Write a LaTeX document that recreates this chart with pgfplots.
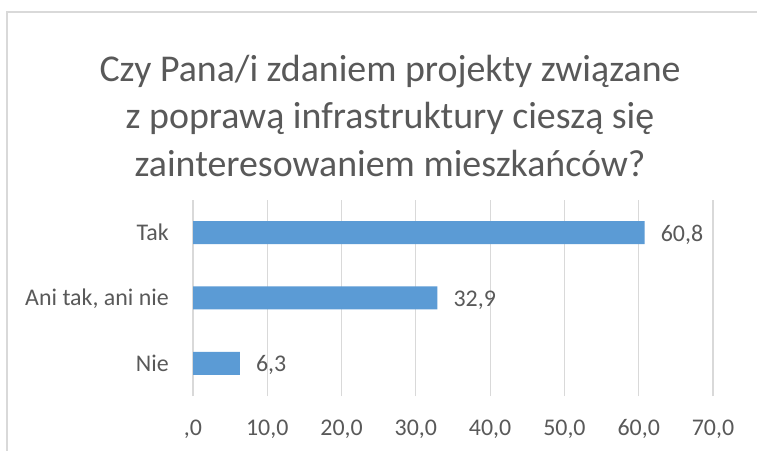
\documentclass[border=0pt]{standalone}
\usepackage{fontspec}
\setmainfont{Carlito}
\usepackage{pgfplots}
\pgfplotsset{compat=1.18}
\definecolor{barblue}{HTML}{5B9BD5}
\definecolor{txtgray}{HTML}{595959}
\definecolor{gridgray}{HTML}{D9D9D9}
\begin{document}
\begin{tikzpicture}
\useasboundingbox (0,0) rectangle (757bp,451bp);
\fill[white] (0,0) rectangle (757bp,451bp);
\draw[gridgray, line width=1.2bp] (7bp,0) -- (7bp,439bp) -- (757bp,439bp);
\node[anchor=base, text=txtgray, font=\fontsize{38}{46}\selectfont] at (390bp,369.5bp) {Czy Pana/i zdaniem projekty związane};
\node[anchor=base, text=txtgray, font=\fontsize{38}{46}\selectfont] at (390bp,322bp) {z poprawą infrastruktury cieszą się};
\node[anchor=base, text=txtgray, font=\fontsize{38}{46}\selectfont] at (390bp,274bp) {zainteresowaniem mieszkańców?};
\begin{axis}[
  at={(193bp,55bp)}, anchor=south west,
  width=520bp, height=196bp, scale only axis,
  xmin=0, xmax=70, ymin=-0.5, ymax=2.5,
  xbar, bar width=23bp,
  axis line style={draw=none},
  major tick length=0pt,
  xmajorgrids, ymajorgrids=false,
  grid style={gridgray, line width=1.2bp},
  xtick={0,10,20,30,40,50,60,70},
  xticklabels={{,0},{10,0},{20,0},{30,0},{40,0},{50,0},{60,0},{70,0}},
  ytick={0,1,2},
  yticklabels={Nie,{Ani tak, ani nie},Tak},
  xticklabel style={anchor=base, yshift=-39bp, text=txtgray, font=\fontsize{24}{29}\selectfont},
  yticklabel style={anchor=base east, inner sep=0pt, xshift=-24bp, yshift=-7.8bp, text=txtgray, font=\fontsize{24}{29}\selectfont},
  point meta=x,
  nodes near coords,
  /pgf/number format/use comma,
  /pgf/number format/fixed,
  /pgf/number format/fixed zerofill,
  /pgf/number format/precision=1,
  /pgf/number format/assume math mode=true,
  every node near coord/.append style={anchor=base west, inner sep=0pt, xshift=16bp, yshift=-8.5bp, text=txtgray, font=\fontsize{24}{29}\selectfont},
  clip=false,
]
\addplot[fill=barblue, draw=none] coordinates {(6.3,0) (32.9,1) (60.8,2)};
\end{axis}
\end{tikzpicture}
\end{document}
